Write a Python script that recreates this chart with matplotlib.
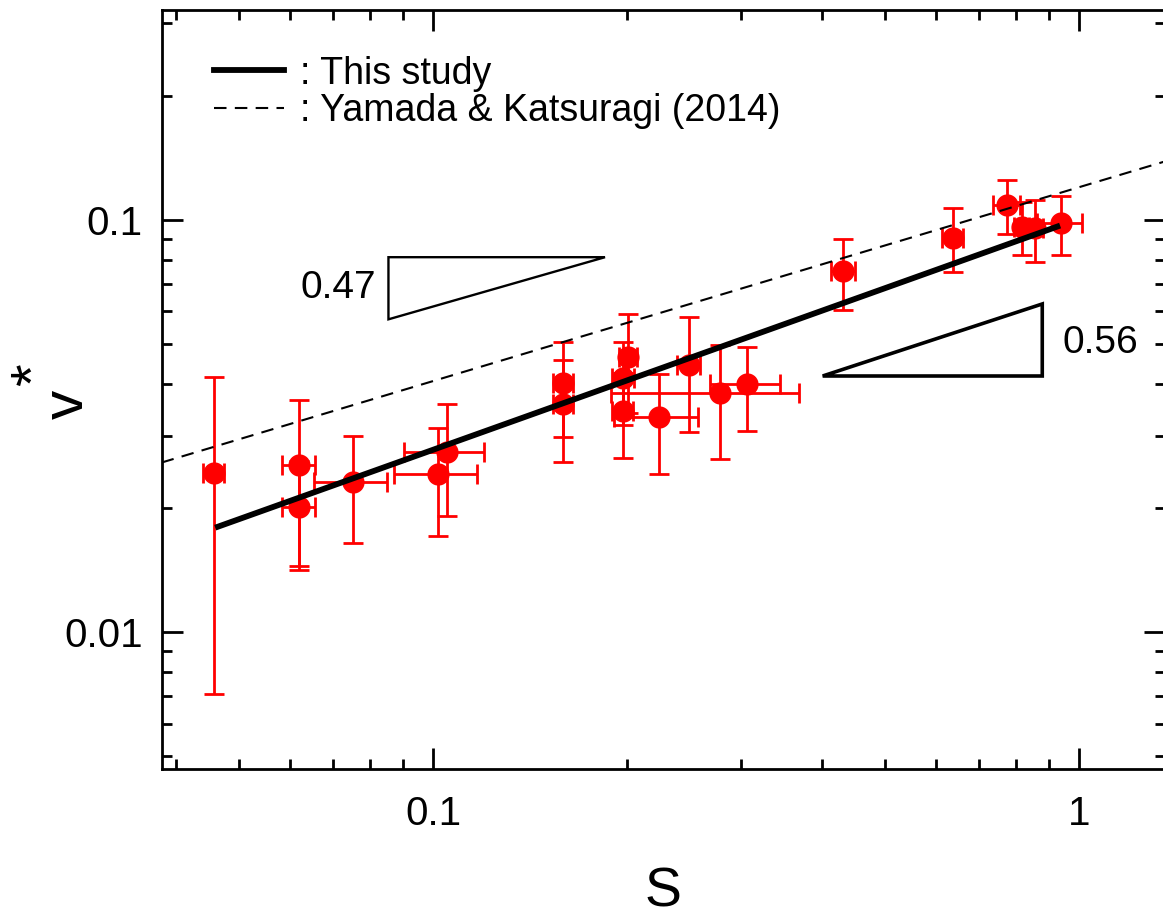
import matplotlib
matplotlib.use("Agg")
import matplotlib.pyplot as plt
from matplotlib.lines import Line2D
from matplotlib.patches import Polygon
from matplotlib.ticker import LogLocator, NullFormatter
import numpy as np

plt.rcParams["font.family"] = ["Liberation Sans", "DejaVu Sans"]

W, H = 1163, 922

# measured points: S with its error, v* with its error
S = [0.0458, 0.0620, 0.0620, 0.0751, 0.1019, 0.1050, 0.1591, 0.1591, 0.1967,
     0.1971, 0.2006, 0.2240, 0.2486, 0.2786, 0.3065, 0.4315, 0.6374, 0.7728,
     0.8153, 0.8549, 0.9369]
S_err = [0.0017, 0.0036, 0.0036, 0.0097, 0.0149, 0.0149, 0.0056, 0.0056, 0.0075,
         0.0077, 0.0065, 0.0336, 0.0101, 0.0903, 0.0380, 0.0190, 0.0230, 0.0375,
         0.0220, 0.0250, 0.0750]
v_star = [0.0243, 0.0255, 0.0201, 0.0232, 0.0242, 0.0274, 0.0402, 0.0358, 0.0345,
          0.0413, 0.0466, 0.0332, 0.0444, 0.0380, 0.0400, 0.0752, 0.0906, 0.1087,
          0.0963, 0.0955, 0.0982]
v_err = [0.0172, 0.0110, 0.0059, 0.0067, 0.0071, 0.0083, 0.0105, 0.0099, 0.0081,
         0.0094, 0.0126, 0.0090, 0.0138, 0.0117, 0.0093, 0.0147, 0.0160, 0.0165,
         0.0143, 0.0165, 0.0160]

# power-law fits  v* = A * S^n
FIT_S, FIT_A, FIT_N = [0.046, 0.935], 0.1006, 0.56     # this study
YK_S, YK_A, YK_N = [0.038, 1.36], 0.12, 0.47           # Yamada & Katsuragi (2014)

# slope triangles
tri47_S = [0.0853, 0.0853, 0.1846]
tri47_v = [0.0574, 0.0812, 0.0812]
tri56_S = [0.4011, 0.8774, 0.8774]
tri56_v = [0.04183, 0.04183, 0.06254]

fig = plt.figure(figsize=(W / 100, H / 100), dpi=100)
ax = fig.add_axes([162 / W, 1 - 769 / H, (1165 - 162) / W, (769 - 10) / H])
ax.set_xscale("log")
ax.set_yscale("log")
ax.set_xlim(0.03805, 1.359)
ax.set_ylim(0.004662, 0.3228)

ax.errorbar(S, v_star, xerr=S_err, yerr=v_err, fmt="o", color="red", ms=15,
            elinewidth=2.0, capsize=7, capthick=2.0, zorder=3)

fit_S = np.array(FIT_S)
ax.plot(fit_S, FIT_A * fit_S ** FIT_N, color="black", lw=4.2,
        solid_capstyle="butt", zorder=4)
yk_S = np.array(YK_S)
ax.plot(yk_S, YK_A * yk_S ** YK_N, color="black", lw=1.5,
        ls=(0, (6, 4)), zorder=4)

ax.add_patch(Polygon(list(zip(tri47_S, tri47_v)), closed=True, fill=False,
                     edgecolor="black", lw=1.7, zorder=4))
ax.add_patch(Polygon(list(zip(tri56_S, tri56_v)), closed=True, fill=False,
                     edgecolor="black", lw=2.6, zorder=4))
ax.text(0.0816, 0.0684, "0.47", ha="right", va="center", fontsize=28)
ax.text(0.9445, 0.0504, "0.56", ha="left", va="center", fontsize=28)

# ticks: inward, all four sides
ax.set_xticks([0.1, 1], ["0.1", "1"])
ax.set_yticks([0.01, 0.1], ["0.01", "0.1"])
ax.xaxis.set_minor_locator(LogLocator(base=10, subs=np.arange(2, 10)))
ax.yaxis.set_minor_locator(LogLocator(base=10, subs=np.arange(2, 10)))
ax.xaxis.set_minor_formatter(NullFormatter())
ax.yaxis.set_minor_formatter(NullFormatter())
ax.tick_params(which="both", direction="in", top=True, right=True,
               width=2.0, labelsize=29, pad=14)
ax.tick_params(axis="x", pad=19)
ax.tick_params(which="major", length=15)
ax.tick_params(which="minor", length=7.5)
for sp in ax.spines.values():
    sp.set_linewidth(2)

handles = [Line2D([], [], color="black", lw=4.2),
           Line2D([], [], color="black", lw=1.5, ls=(0, (6, 4)))]
ax.legend(handles, [": This study", ": Yamada & Katsuragi (2014)"],
          loc="upper left", bbox_to_anchor=(0.052, 0.940), frameon=False,
          fontsize=27, handlelength=1.85, handletextpad=0.45, labelspacing=0.05,
          borderpad=0, borderaxespad=0)

# axis labels
fig.text(663 / W, 1 - 906 / H, "S", ha="center", va="baseline", fontsize=40)
fig.text(83 / W, 1 - 404 / H, "v", rotation=90, rotation_mode="anchor",
         ha="center", va="baseline", fontsize=42)
fig.text(51 / W, 1 - 375 / H, "*", rotation=90, rotation_mode="anchor",
         ha="center", va="baseline", fontsize=42)

fig.savefig("out.png", dpi=100, facecolor="white")
